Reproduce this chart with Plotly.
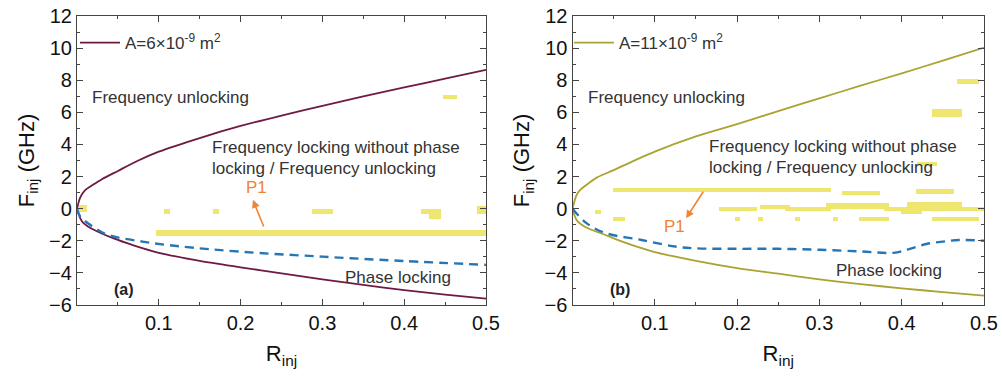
import plotly.graph_objects as go

# ---------------- data ----------------
# Panel (a): A = 6e-9 m^2
a_up_x = [0, 0.004, 0.01, 0.02, 0.03, 0.05, 0.075, 0.1, 0.15, 0.2, 0.25, 0.3, 0.35, 0.4, 0.45, 0.5]
a_up_y = [0, 0.7, 1.15, 1.5, 1.82, 2.35, 3.0, 3.55, 4.4, 5.15, 5.8, 6.4, 7.0, 7.55, 8.1, 8.65]
a_lo_x = [0, 0.004, 0.008, 0.02, 0.044, 0.07, 0.1, 0.15, 0.2, 0.25, 0.3, 0.35, 0.4, 0.45, 0.5]
a_lo_y = [0, -0.6, -0.9, -1.3, -1.84, -2.3, -2.75, -3.25, -3.65, -4.03, -4.4, -4.75, -5.07, -5.35, -5.6]
a_ph_x = [0, 0.004, 0.016, 0.036, 0.08, 0.126, 0.2, 0.3, 0.4, 0.5]
a_ph_y = [0, -0.5, -1.0, -1.6, -2.05, -2.35, -2.68, -2.99, -3.26, -3.5]
# P1 regions (x0, x1, y0, y1)
a_p1_x0 = [0.003, 0.106, 0.166, 0.287, 0.420, 0.430, 0.489, 0.097, 0.447]
a_p1_x1 = [0.012, 0.114, 0.173, 0.313, 0.445, 0.445, 0.500, 0.500, 0.464]
a_p1_y0 = [-0.20, -0.35, -0.35, -0.35, -0.35, -0.66, -0.35, -1.68, 6.80]
a_p1_y1 = [0.20, -0.05, -0.05, -0.05, -0.05, -0.35, 0.17, -1.33, 7.07]

# Panel (b): A = 11e-9 m^2
b_up_x = [0, 0.005, 0.01, 0.02, 0.03, 0.05, 0.1, 0.15, 0.2, 0.25, 0.3, 0.35, 0.4, 0.45, 0.5]
b_up_y = [0, 0.85, 1.2, 1.6, 1.95, 2.4, 3.55, 4.5, 5.27, 6.08, 6.87, 7.66, 8.43, 9.22, 10.03]
b_lo_x = [0, 0.005, 0.015, 0.04, 0.05, 0.08, 0.1, 0.15, 0.2, 0.25, 0.3, 0.35, 0.4, 0.45, 0.5]
b_lo_y = [0, -0.7, -1.12, -1.64, -1.85, -2.4, -2.7, -3.25, -3.7, -4.05, -4.4, -4.7, -4.96, -5.2, -5.42]
b_ph_x = [0, 0.017, 0.039, 0.084, 0.125, 0.15, 0.2, 0.25, 0.3, 0.35, 0.39, 0.41, 0.43, 0.45, 0.47, 0.5]
b_ph_y = [0, -0.9, -1.5, -1.95, -2.36, -2.47, -2.5, -2.5, -2.56, -2.66, -2.75, -2.5, -2.2, -2.05, -1.95, -2.0]
b_p1_x0 = [0.048, 0.327, 0.417, 0.177, 0.227, 0.257, 0.307, 0.378, 0.398, 0.406, 0.473,
           0.048, 0.027, 0.197, 0.225, 0.270, 0.316, 0.347, 0.436, 0.467, 0.436, 0.418]
b_p1_x1 = [0.313, 0.373, 0.463, 0.223, 0.264, 0.313, 0.384, 0.406, 0.424, 0.473, 0.500,
           0.063, 0.034, 0.203, 0.231, 0.276, 0.322, 0.384, 0.493, 0.493, 0.473, 0.442]
b_p1_y0 = [1.04, 0.85, 0.93, -0.16, -0.02, -0.16, -0.02, -0.16, -0.35, -0.16, -0.16,
           -0.78, -0.35, -0.78, -0.78, -0.78, -0.78, -0.78, -0.78, 7.77, 5.73, 2.66]
b_p1_y1 = [1.31, 1.12, 1.23, 0.12, 0.25, 0.12, 0.34, 0.12, 0.12, 0.40, 0.12,
           -0.50, -0.08, -0.50, -0.50, -0.50, -0.50, -0.50, -0.50, 8.08, 6.21, 2.89]

x_ticks = [0.1, 0.2, 0.3, 0.4, 0.5]
x_ticklabels = ["0.1", "0.2", "0.3", "0.4", "0.5"]
y_ticks = [-6, -4, -2, 0, 2, 4, 6, 8, 10, 12]

# ---------------- styles ----------------
FONT = "Liberation Sans, Arial, sans-serif"
YELLOW = "#EEE66F"
MAROON = "#6E1A42"
OLIVE = "#AAA332"
BLUE = "#2676B5"
ORANGE = "#F08433"
TXT = "#333333"

fig = go.Figure()

def add_panel(xa, ya, legend, up_x, up_y, lo_x, lo_y, ph_x, ph_y,
              x0, x1, y0, y1, color, name):
    fig.add_trace(go.Bar(
        x=[(a + b) / 2 for a, b in zip(x0, x1)],
        width=[b - a for a, b in zip(x0, x1)],
        base=y0,
        y=[b - a for a, b in zip(y0, y1)],
        marker=dict(color=YELLOW, line=dict(width=0)),
        xaxis=xa, yaxis=ya, showlegend=False, hoverinfo="skip"))
    fig.add_trace(go.Scatter(x=up_x, y=up_y, mode="lines",
                             line=dict(color=color, width=1.8, shape="spline", smoothing=0.8),
                             name=name, legend=legend, xaxis=xa, yaxis=ya))
    fig.add_trace(go.Scatter(x=lo_x, y=lo_y, mode="lines",
                             line=dict(color=color, width=1.8, shape="spline", smoothing=0.8),
                             showlegend=False, xaxis=xa, yaxis=ya))
    fig.add_trace(go.Scatter(x=ph_x, y=ph_y, mode="lines",
                             line=dict(color=BLUE, width=2.4, dash="9px,6px", shape="spline"),
                             showlegend=False, xaxis=xa, yaxis=ya))

add_panel("x", "y", "legend", a_up_x, a_up_y, a_lo_x, a_lo_y, a_ph_x, a_ph_y,
          a_p1_x0, a_p1_x1, a_p1_y0, a_p1_y1, MAROON, "A=6×10<sup>-9</sup> m<sup>2</sup>")
add_panel("x2", "y2", "legend2", b_up_x, b_up_y, b_lo_x, b_lo_y, b_ph_x, b_ph_y,
          b_p1_x0, b_p1_x1, b_p1_y0, b_p1_y1, OLIVE, "A=11×10<sup>-9</sup> m<sup>2</sup>")

axis_common = dict(showline=True, linecolor="#444", linewidth=1.2, mirror="ticks",
                   ticks="inside", tickcolor="#444", ticklen=6, showgrid=False, zeroline=False,
                   tickfont=dict(family=FONT, size=20, color="#111"), automargin=False)
xcommon = dict(axis_common, range=[0, 0.5], tickvals=x_ticks, ticktext=x_ticklabels,
               minor=dict(tickmode="linear", tick0=0, dtick=0.05, ticks="inside", ticklen=3,
                          tickcolor="#444"),
               title=dict(text="R<sub>inj</sub>", font=dict(family=FONT, size=22, color="#111"),
                          standoff=12))
ycommon = dict(axis_common, range=[-6, 12], tickvals=y_ticks,
               minor=dict(tickmode="linear", tick0=0, dtick=1, ticks="inside", ticklen=3,
                          tickcolor="#444"),
               title=dict(text="F<sub>inj</sub> (GHz)", font=dict(family=FONT, size=22, color="#111"),
                          standoff=8))

W, H = 1002, 377
ydom = [1 - 305 / H, 1 - 16 / H]
legend_common = dict(xanchor="left", yanchor="top", itemwidth=40, bgcolor="rgba(0,0,0,0)",
                     font=dict(family=FONT, size=17, color=TXT))
fig.update_layout(
    width=W, height=H, margin=dict(l=0, r=0, t=0, b=0),
    paper_bgcolor="white", plot_bgcolor="white", barmode="overlay", bargap=0,
    font=dict(family=FONT, color=TXT),
    xaxis=dict(xcommon, domain=[77 / W, 486 / W], anchor="y"),
    yaxis=dict(ycommon, domain=ydom, anchor="x"),
    xaxis2=dict(xcommon, domain=[572.5 / W, 984 / W], anchor="y2"),
    yaxis2=dict(ycommon, domain=ydom, anchor="x2"),
    legend=dict(legend_common, x=75 / W, y=1 - 25 / H),
    legend2=dict(legend_common, x=569 / W, y=1 - 25 / H),
    showlegend=True,
)

def txt(xr, yr, x, y, text, size=17, color=TXT, xanchor="left", bold=False):
    fig.add_annotation(x=x, y=y, xref=xr, yref=yr, text=("<b>%s</b>" % text) if bold else text,
                       showarrow=False, xanchor=xanchor, yanchor="middle",
                       font=dict(family=FONT, size=size, color=color))

for xr, yr, fu_y, fl_y1, fl_y2, ph_x, ph_y, lab in [
        ("x", "y", 6.95, 3.84, 2.52, 0.393, -4.26, "(a)"),
        ("x2", "y2", 6.95, 3.9, 2.55, 0.384, -3.82, "(b)")]:
    txt(xr, yr, 0.016, fu_y, "Frequency unlocking")
    txt(xr, yr, 0.163, fl_y1, "Frequency locking without phase")
    txt(xr, yr, 0.163, fl_y2, "locking / Frequency unlocking")
    txt(xr, yr, ph_x, ph_y, "Phase locking", xanchor="center")
    txt(xr, yr, 0.043, -5.06, lab, size=16, color="#222", bold=True)

# P1 labels and arrows
txt("x", "y", 0.219, 1.3, "P1", color=ORANGE, xanchor="center")
txt("x2", "y2", 0.124, -1.1, "P1", color=ORANGE, xanchor="center")
fig.add_annotation(x=0.215, y=0.55, ax=0.229, ay=-1.2, xref="x", yref="y", axref="x", ayref="y",
                   showarrow=True, arrowhead=2, arrowsize=1, arrowwidth=1.6, arrowcolor=ORANGE, text="")
fig.add_annotation(x=0.138, y=-0.6, ax=0.16, ay=1.15, xref="x2", yref="y2", axref="x2", ayref="y2",
                   showarrow=True, arrowhead=2, arrowsize=1, arrowwidth=1.6, arrowcolor=ORANGE, text="")

fig.write_html("out.html")
